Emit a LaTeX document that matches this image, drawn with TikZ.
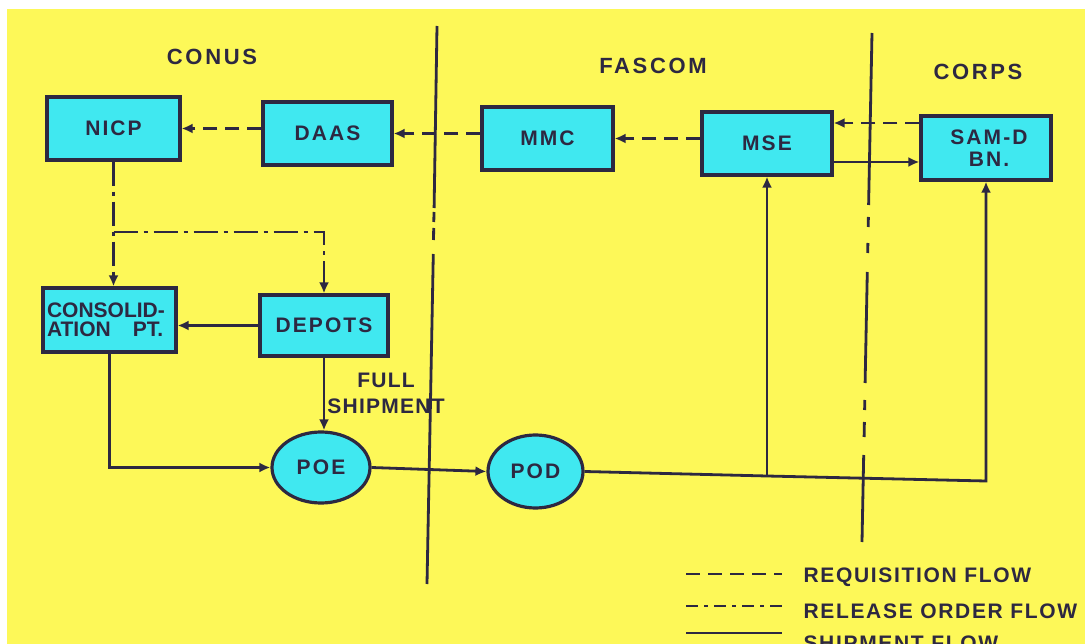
\documentclass[tikz,border=0pt]{standalone}
\usepackage{fontspec}
\setmainfont{Liberation Sans}
\newfontfamily\fntBox{Liberation Sans}[LetterSpace=10]
\newfontfamily\fntGrp{Liberation Sans}[LetterSpace=12]
\newfontfamily\fntLeg{Liberation Sans}[LetterSpace=8]
\newfontfamily\fntTight{Liberation Sans}[LetterSpace=0]
\newfontfamily\fntShip{Liberation Sans}[LetterSpace=6]
\usetikzlibrary{arrows.meta,shapes.geometric}
\definecolor{bgyellow}{RGB}{253,248,88}
\definecolor{boxcyan}{RGB}{64,232,240}
\definecolor{ink}{RGB}{45,40,65}
\tikzset{
  blk/.style={draw=ink, line width=3.2pt, fill=boxcyan, inner sep=0pt, text=ink,
    font=\fntBox\bfseries\fontsize{21}{22}\selectfont},
  oval/.style={blk, ellipse},
  grp/.style={anchor=base, text=ink, font=\fntGrp\bfseries\fontsize{22}{24}\selectfont},
  leg/.style={anchor=base west, text=ink, font=\fntLeg\bfseries\fontsize{21}{22}\selectfont},
  conn/.style={draw=ink, line width=2.8pt},
  arr/.style={-{Latex[length=11pt,width=10pt]}},
  req/.style={conn, dash pattern=on 14pt off 8pt},
  rel/.style={conn, dash pattern=on 24pt off 6pt on 4pt off 6pt},
  shp/.style={conn},
  bound/.style={draw=ink, line width=2.8pt},
}
\begin{document}
\begin{tikzpicture}[x=1pt,y=-1pt]
\clip (0,0) rectangle (1085,644);
\fill[white] (0,0) rectangle (1085,644);
\fill[bgyellow] (7,9) rectangle (1085,644);

% boundary lines
\draw[bound] (437,26) -- (434.1,208);
\draw[bound] (434.0,212) -- (433.8,222);
\draw[bound] (433.7,228) -- (433.5,240);
\draw[bound] (433.3,254) -- (427,584);

\draw[bound] (872,33) -- (868.6,205);
\draw[bound] (868.4,217) -- (868.2,227);
\draw[bound] (867.9,243) -- (867.7,253);
\draw[bound] (867.3,272) -- (865.1,383);
\draw[bound] (864.8,400) -- (864.6,410);
\draw[bound] (864.4,422) -- (864.1,437);
\draw[bound] (863.7,455) -- (862,542);

% group labels
\node[grp] (conus) at (212,65) {CONUS};
\node[grp] (fascom) at (653,74) {FASCOM};
\node[grp] (corps) at (978,80) {CORPS};

% boxes
\node[blk, minimum width=133pt, minimum height=63pt] (NICP) at (113.5,128.5) {NICP};
\node[blk, minimum width=129pt, minimum height=63pt] (DAAS) at (327.5,133.5) {DAAS};
\node[blk, minimum width=131pt, minimum height=63pt] (MMC) at (547.5,138.5) {MMC};
\node[blk, minimum width=130pt, minimum height=63pt] (MSE) at (767,143.5) {MSE};
\node[blk, minimum width=130pt, minimum height=64pt, align=center] (SAMD) at (986,148) {\hspace*{6pt}SAM-D\\\hspace*{6pt}BN.};
\node[blk, minimum width=133pt, minimum height=64pt, align=left, text width=125pt,
      font=\fntTight\bfseries\fontsize{21}{19}\selectfont] (CONSOL) at (109.5,320) {CONSOLID-\\ATION\hspace{22pt}PT.};
\node[blk, minimum width=128pt, minimum height=61pt] (DEPOTS) at (324,325.5) {DEPOTS};
\node[oval, minimum width=98pt, minimum height=71pt] (POE) at (321,467.5) {POE};
\node[oval, minimum width=95pt, minimum height=73pt] (POD) at (535.5,471.5) {POD};

\node[align=center, text=ink, font=\fntShip\bfseries\fontsize{21}{26}\selectfont] (fs) at (386,393) {FULL\\SHIPMENT};

% requisition flow
\draw[req,arr] (DAAS.west |- NICP.east) -- (NICP.east);
\draw[req,arr] (MMC.west |- DAAS.east) -- (DAAS.east);
\draw[req,arr] (MSE.west |- MMC.east) -- (MMC.east);
\coordinate (qy) at (0,123);
\draw[req,arr] (SAMD.west |- qy) -- (MSE.east |- qy);

% release order flow
\coordinate (by) at (0,232);
\draw[rel,arr] (NICP.south) -- (NICP.south |- CONSOL.north);
\draw[rel,arr] (NICP.south |- by) -| (DEPOTS.north);

% shipment flow
\coordinate (sy) at (0,162);
\draw[shp,arr] (MSE.east |- sy) -- (SAMD.west |- sy);
\draw[shp,arr] (DEPOTS.west) -- (DEPOTS.west -| CONSOL.east);
\draw[shp,arr] (DEPOTS.south) -- (DEPOTS.south |- POE.north);
\draw[shp,arr] (CONSOL.south) |- (POE.west);
\draw[shp,arr] (POE.east) -- (POD.west);
\coordinate (jy) at (0,476);
\coordinate (ky) at (0,481);
\draw[shp,arr] (POD.east) -- (MSE.south |- jy) -- (SAMD.south |- ky) -- (SAMD.south);
\draw[shp,arr] (MSE.south |- jy) -- (MSE.south);

% legend
\coordinate (la1) at (686,574); \coordinate (lb1) at (782,574);
\coordinate (la2) at (686,606); \coordinate (lb2) at (782,606);
\coordinate (la3) at (686,633); \coordinate (lb3) at (782,633);
\draw[req] (la1) -- (lb1);
\draw[rel, dash pattern=on 12pt off 6pt on 4pt off 6pt] (la2) -- (lb2);
\draw[shp] (la3) -- (lb3);
\node[leg] (lt1) at (800,582) {REQUISITION FLOW};
\node[leg] (lt2) at (800,618) {RELEASE ORDER FLOW};
\node[leg] (lt3) at (800,650) {SHIPMENT FLOW};
\end{tikzpicture}
\end{document}
